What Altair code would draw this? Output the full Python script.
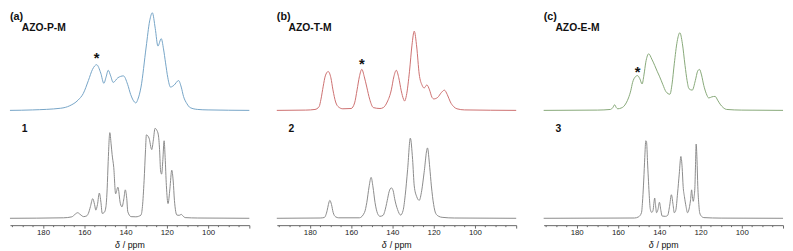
import altair as alt
import pandas as pd

FONT = "Liberation Sans"
X_DOMAIN = [196, 80]
TICK_VALUES = list(range(195, 79, -5))

# ---------------- Panel (a): AZO-P-M (top) and compound 1 (bottom) ----------------
a_up_ppm = [196, 185, 171.4, 167, 163, 160.5, 158, 156, 154, 152, 150.5, 149.4, 148.4, 147.2, 146,
            143.7, 141, 139, 137.5, 135.7, 135, 134, 132.5, 130, 128.3, 127, 125.6, 124.3, 122.7,
            121.6, 120.6, 119.5, 118.2, 116.5, 114.3, 113, 111.9, 110.2, 108.7, 105, 100, 80]
a_up_int = [0, 0.5, 2.3, 5, 11, 18, 32, 44, 49, 40, 29, 36, 43, 37, 30,
            35, 37, 28, 17, 9, 8, 12, 25, 68, 96, 104.7, 88, 69, 77,
            66, 51, 35, 25, 27, 32, 25, 15, 7, 3, 1, 0.5, 0]

a_lo_ppm = [196, 170, 166, 164.5, 163.2, 162, 160.3, 158.8, 158, 157, 155.9, 155, 154.4, 153.6, 152.7,
            151.9, 151.3, 150.3, 149.5, 148.9, 148.4, 147.6, 147, 146.5, 145.7, 144.8, 143.7, 142.5,
            141.7, 140.8, 140.1, 139.4, 138.9, 137.3, 135, 132.5, 131.8, 131, 130.3, 129.9, 128.6,
            127.3, 126.5, 125.7, 124.9, 124.1, 123.5, 123, 122.5, 121.9, 121.3, 120.8, 120.2, 119.4,
            118.5, 117.6, 116.9, 116.3, 115.1, 114, 113, 112, 111.1, 105, 80]
a_lo_int = [0, 0.5, 1.5, 4, 5.7, 4, 1.7, 2.5, 5, 12, 20, 14, 8.3, 14, 25.7,
            16, 5, 6, 11.7, 30, 58, 87.3, 76, 65, 51.7, 25, 31.7, 15,
            11.7, 20, 29, 20, 6.7, 1.7, 1.5, 3.3, 12, 38.3, 70, 85, 81.7,
            70, 80, 91.7, 90, 85, 70, 48.3, 45, 60, 79, 62, 33.3, 15,
            30, 49, 38, 18.3, 3.3, 3, 4, 2, 0.7, 0.3, 0]

# ---------------- Panel (b): AZO-T-M (top) and compound 2 (bottom) ----------------
b_up_ppm = [196, 182, 177.5, 175.5, 174.6, 173.5, 172.5, 171.1, 169.8, 168.8, 167.5, 166, 164, 160,
            158.3, 157.1, 156, 154.8, 153.6, 152.4, 151, 149.2, 146, 144.4, 142.5, 140.5, 139.3,
            138.1, 136.9, 135.7, 134.6, 134.1, 133.2, 131.7, 130.5, 129.4, 128.2, 127, 125.6, 124.6,
            123.3, 122, 120.8, 119.9, 118, 116.3, 114.8, 113.4, 111.9, 110.3, 108.7, 105, 80]
b_up_int = [0, 0.3, 1, 4, 12, 26, 37, 41.7, 35, 22, 9, 3.5, 1.7, 2,
            8, 22, 36, 44, 36, 25, 12, 3, 2, 3, 9, 22, 36,
            43, 35, 21, 12, 10, 16, 42, 70, 85, 68, 39, 27, 24,
            27.3, 22, 14, 12.3, 14, 19, 21.7, 17, 9, 4, 1.7, 0.5, 0]

b_lo_ppm = [196, 175, 173, 171.6, 171, 170.3, 169.5, 168.7, 167.5, 166, 156, 153.5, 152.4, 151.3,
            150.3, 149.4, 148.4, 147.2, 146, 144.5, 143.7, 142.5, 141.6, 140.5, 139.6, 138.9, 137.5,
            136, 134.8, 133.8, 132.6, 131.3, 130.2, 129.4, 128.2, 127, 125.8, 124.6, 123, 121.9,
            121.1, 120, 119, 117.5, 115.9, 110, 80]
b_lo_int = [0, 0.3, 0.8, 8, 14, 18.3, 14, 6, 1.5, 0.5, 0.5, 6, 16, 32,
            41.7, 32, 16, 5, 2, 3, 7, 18, 27, 31, 28, 20, 9,
            3.3, 8, 23, 50, 81.7, 60, 33, 22, 18.3, 28, 47, 71.7, 52,
            33, 14, 5, 2, 1, 0.3, 0]

# ---------------- Panel (c): AZO-E-M (top) and compound 3 (bottom) ----------------
c_up_ppm = [196, 170, 163.6, 162.5, 161.6, 160.8, 160.1, 158.5, 157.3, 156, 154.9, 153.8, 152.9,
            151.6, 150.5, 149.4, 148.3, 147.4, 146.5, 145.1, 143.6, 142.2, 141, 139.9, 138.3, 136.7,
            134.8, 133.8, 132.7, 131.3, 130, 128.8, 127.5, 126.5, 125.6, 124, 122.5, 121.4, 120.5,
            119.5, 118.4, 117.2, 116, 114.5, 112.9, 111.7, 110.5, 109, 107.3, 100, 80]
c_up_int = [0, 0.3, 1, 3, 6, 3, 1.7, 2.5, 4, 8, 13.3, 21, 30,
            36, 37.3, 34, 28.3, 38, 51.7, 60.7, 55, 48.3, 42, 36.7, 28, 20,
            17.3, 28, 50, 74, 83.3, 72, 48.3, 32, 23.3, 21.7, 32, 42, 44,
            38, 26.7, 18, 13.3, 14.5, 15, 11, 6.7, 3, 1, 0.3, 0]

c_lo_ppm = [196, 152, 150, 148.6, 148, 147.5, 147, 146.5, 146.2, 145.9, 145.7, 145.3, 144.9, 144.3,
            143.6, 143, 142.6, 142.2, 141.8, 141.3, 140.6, 139.9, 139.2, 138.6, 137, 135.9, 135,
            134.1, 133.3, 132.7, 132, 131.1, 130.3, 129.5, 128.9, 128.4, 127.8, 127, 126.3, 125.3,
            124.8, 124.3, 123.9, 123.5, 123.1, 122.7, 122.4, 122.1, 121.7, 121.3, 120.8, 120.4,
            119.5, 118.4, 110, 80]
c_lo_int = [0, 0.3, 1.5, 5.7, 20, 39, 62, 79, 78.5, 70, 59, 42, 25.7, 9,
            6, 8, 15, 20.7, 14, 5.7, 9, 16.3, 8, 2.3, 2, 3, 12,
            24, 14, 5.7, 8, 25.7, 45, 63, 52, 32.3, 22.3, 12, 5.7, 12,
            19, 29, 22, 17.3, 22, 32.3, 55, 75.7, 60, 32.3, 14, 5.7,
            2, 0.7, 0.2, 0]

# annotations
tags = ["(a)", "(b)", "(c)"]
names = ["AZO-P-M", "AZO-T-M", "AZO-E-M"]
numbers = ["1", "2", "3"]
colors = ["#74a3c6", "#cc6e6e", "#86a777"]
star_ppm = [154, 154.8, 150.5]
star_int = [59, 52.6, 44.5]

uppers = [(a_up_ppm, a_up_int), (b_up_ppm, b_up_int), (c_up_ppm, c_up_int)]
lowers = [(a_lo_ppm, a_lo_int), (b_lo_ppm, b_lo_int), (c_lo_ppm, c_lo_int)]

W = 244
H_UP = 102
H_LO = 115
K_UP = 0.95
UP_DOMAIN = [-2.0 / K_UP, -2.0 / K_UP + H_UP / K_UP]
LO_DOMAIN = [-7, -7 + H_LO]


def label(text, x, y, size, weight="bold", style="normal", align="left"):
    return alt.Chart(pd.DataFrame({"t": [text]})).mark_text(
        align=align, baseline="middle", font=FONT, fontSize=size,
        fontWeight=weight, fontStyle=style, color="#111"
    ).encode(x=alt.value(x), y=alt.value(y), text="t:N")


def panel(i):
    xs = alt.Scale(domain=X_DOMAIN, nice=False, zero=False)
    up_df = pd.DataFrame({"ppm": uppers[i][0], "v": uppers[i][1]})
    lo_df = pd.DataFrame({"ppm": lowers[i][0], "v": lowers[i][1]})
    ys_up = alt.Scale(domain=UP_DOMAIN, nice=False, zero=False)

    up_line = alt.Chart(up_df).mark_line(
        interpolate="monotone", strokeWidth=1, color=colors[i]
    ).encode(
        x=alt.X("ppm:Q", scale=xs, axis=None),
        y=alt.Y("v:Q", scale=ys_up, axis=None),
    )
    star = alt.Chart(pd.DataFrame({"ppm": [star_ppm[i]], "v": [star_int[i]], "t": ["*"]})).mark_text(
        font=FONT, fontSize=15, fontWeight="bold", baseline="middle", dy=3, color="#111"
    ).encode(
        x=alt.X("ppm:Q", scale=xs, axis=None),
        y=alt.Y("v:Q", scale=ys_up, axis=None),
        text="t:N",
    )
    upper = alt.layer(
        up_line, star, label(tags[i], 0, 4.5, 11), label(names[i], 12, 16.5, 10.5)
    ).properties(width=W, height=H_UP)

    lo_line = alt.Chart(lo_df).mark_line(
        interpolate="monotone", strokeWidth=1, color="#8a8a8a"
    ).encode(
        x=alt.X(
            "ppm:Q", scale=xs,
            axis=alt.Axis(
                values=TICK_VALUES,
                labelExpr="(datum.value % 20 == 0 && datum.value >= 100 && datum.value <= 180) ? datum.label : ''",
                tickSize={"condition": {"test": "datum.value % 20 == 0", "value": 3}, "value": 1.5},
                grid=False, labelOverlap=False, labelFont=FONT, labelFontSize=8,
                labelColor="#222", labelPadding=1, domainColor="#666", tickColor="#666",
                domainWidth=1, tickWidth=1, title=None,
            ),
        ),
        y=alt.Y("v:Q", scale=alt.Scale(domain=LO_DOMAIN, nice=False, zero=False), axis=None),
    )
    lower = alt.layer(
        lo_line,
        label(numbers[i], 12, 17, 10.5),
        label("δ", W / 2 - 10, H_LO + 20, 9, weight="normal", style="italic", align="right"),
        label("/ ppm", W / 2 - 7, H_LO + 20, 9, weight="normal"),
    ).properties(width=W, height=H_LO)
    return alt.vconcat(upper, lower, spacing=0, bounds="flush")


chart = alt.hconcat(panel(0), panel(1), panel(2), spacing=24).properties(
    padding={"left": 0, "top": 0, "right": 0, "bottom": 0}
).configure_view(stroke=None)

chart.save("out.html", embed_options={"renderer": "svg", "actions": False})
